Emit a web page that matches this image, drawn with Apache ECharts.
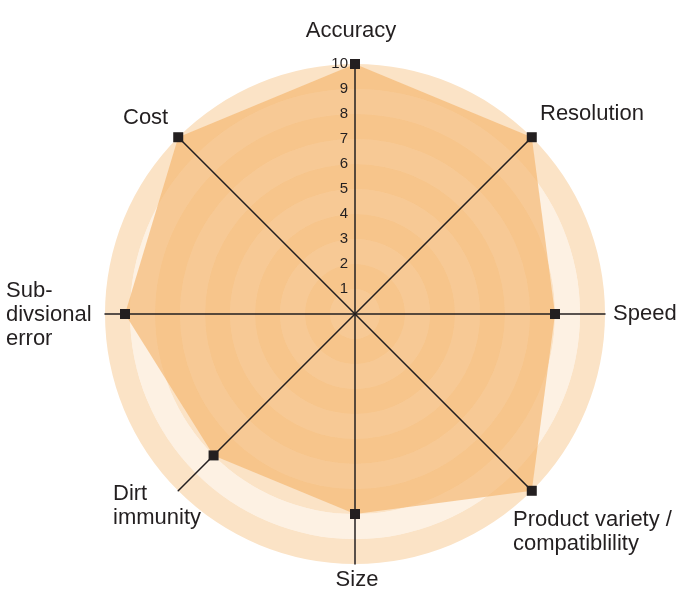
<!DOCTYPE html>
<html><head><meta charset="utf-8">
<script src="https://cdn.jsdelivr.net/npm/echarts@6/dist/echarts.min.js"></script>
<style>html,body{margin:0;padding:0;background:#fff}#c{width:698px;height:607px}</style>
</head><body><div id="c"></div>
<script>
// Indicators in ECharts order (counter-clockwise from top)
const categories = ['Accuracy', 'Cost', 'Sub-\ndivsional\nerror', 'Dirt\nimmunity', 'Size', 'Product variety /\ncompatiblility', 'Speed', 'Resolution'];
const values = [10, 10, 9.2, 8, 8, 10, 8, 10];
const maxValue = 10;
const tickLabels = ['', '1', '2', '3', '4', '5', '6', '7', '8', '9', '10'];

// layout of category names (text placement only)
const nameLayout = [
  {x: 351, y: 19, align: 'center'},
  {x: 123, y: 106, align: 'left'},
  {x: 6, y: 279, align: 'left'},
  {x: 113, y: 482, align: 'left'},
  {x: 357, y: 568, align: 'center'},
  {x: 513, y: 508, align: 'left'},
  {x: 613, y: 302, align: 'left'},
  {x: 540, y: 102, align: 'left'}
];

const FONT = '"Liberation Sans", Arial, Helvetica, sans-serif';
const TEXT = '#231f20';

function indicators(withLabel) {
  return categories.map((c, i) => {
    const ind = {name: c, max: maxValue, min: 0};
    if (withLabel && i === 0) {
      ind.axisLabel = {
        show: true,
        color: TEXT,
        fontSize: 15,
        fontFamily: FONT,
        margin: 7,
        formatter: (v) => tickLabels[Math.round(v)] || ''
      };
    }
    return ind;
  });
}

const common = {
  center: [355, 314],
  radius: 250,
  shape: 'circle',
  splitNumber: 10,
  startAngle: 90,
  axisName: {show: false},
  axisLabel: {show: false},
  axisTick: {show: false},
  splitLine: {show: false}
};

const chart = echarts.init(document.getElementById('c'));
chart.setOption({
  animation: false,
  radar: [
    Object.assign({}, common, {
      z: 1,
      indicator: indicators(false),
      axisLine: {show: false},
      splitArea: {show: true, areaStyle: {color: ['#fdf1e3', '#fbe3c6']}}
    }),
    Object.assign({}, common, {
      z: 5,
      indicator: indicators(true),
      axisLine: {lineStyle: {color: TEXT, width: 1.5}},
      splitArea: {show: false}
    })
  ],
  series: [{
    type: 'radar',
    radarIndex: 0,
    z: 2,
    symbol: 'none',
    lineStyle: {width: 0, opacity: 0},
    areaStyle: {color: '#f5b46c', opacity: 0.66},
    data: [{value: values}]
  }, {
    type: 'radar',
    radarIndex: 1,
    z: 6,
    symbol: 'rect',
    symbolSize: 10,
    itemStyle: {color: TEXT},
    lineStyle: {width: 0, opacity: 0},
    data: [{value: values}]
  }],
  graphic: categories.map((c, i) => ({
    type: 'text',
    x: nameLayout[i].x,
    y: nameLayout[i].y,
    style: {
      text: c,
      fill: TEXT,
      font: '22px ' + FONT,
      textAlign: nameLayout[i].align,
      textVerticalAlign: 'top',
      lineHeight: 24
    }
  }))
});
</script></body></html>
